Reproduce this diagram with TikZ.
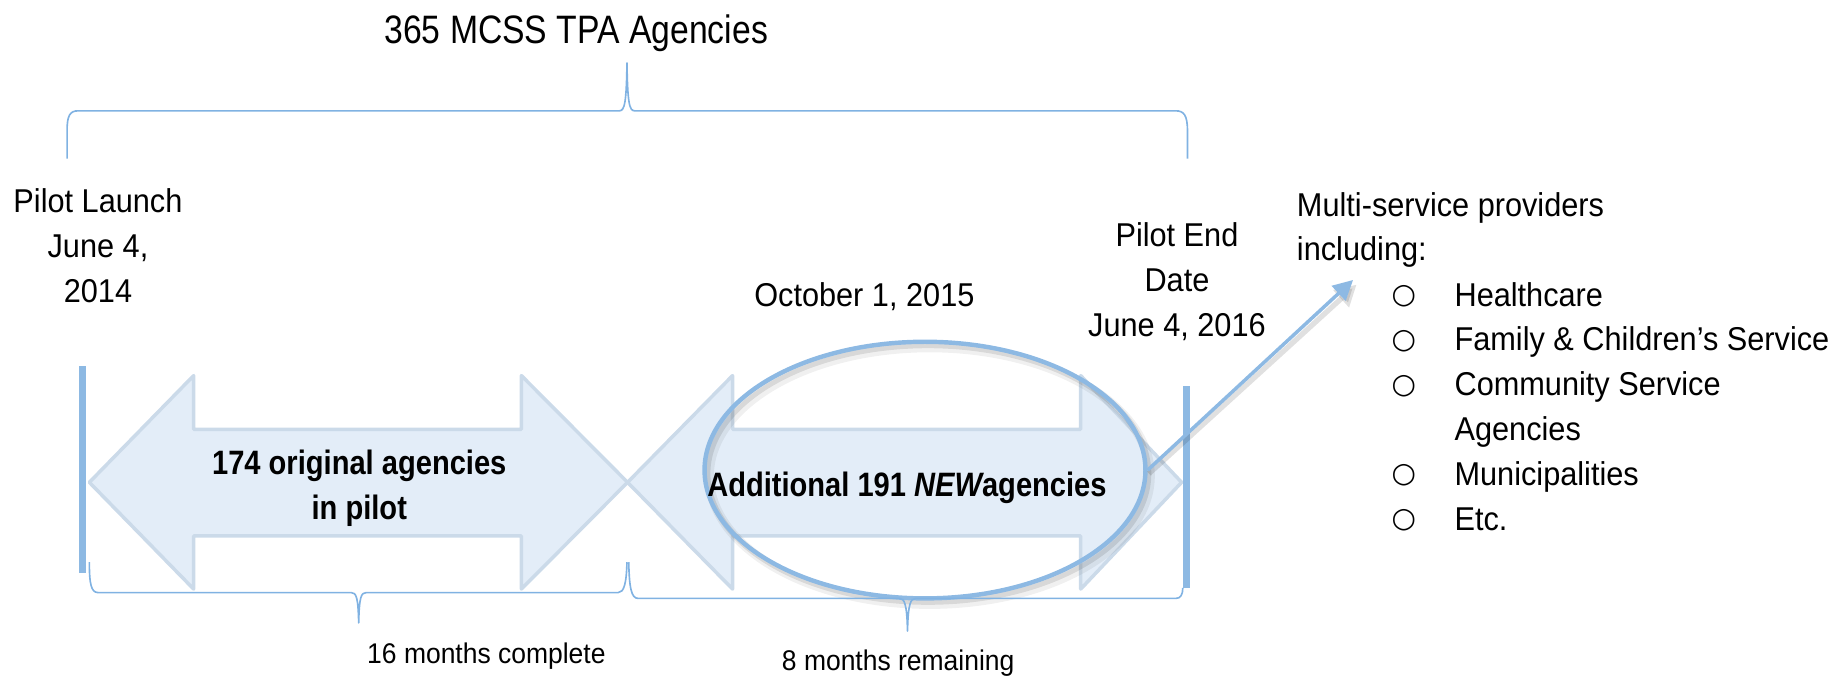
\documentclass[tikz,border=0pt]{standalone}
\usepackage{fontspec}
\setmainfont{Liberation Sans}[FakeStretch=0.93]
\newfontfamily\bnarrow{Liberation Sans}[FakeStretch=0.86]
\newfontfamily\tnarrow{Liberation Sans}[FakeStretch=0.85]
\newfontfamily\symb{DejaVu Sans}
\usetikzlibrary{arrows.meta,shapes.geometric}
\definecolor{barblue}{HTML}{8DB9E3}
\definecolor{arrfill}{HTML}{E3EDF8}
\definecolor{arrline}{HTML}{CBDAE9}
\definecolor{braceblue}{HTML}{80B2E2}
\begin{document}
\begin{tikzpicture}[x=1pt,y=-1pt,
  txt/.style={inner sep=0, anchor=base, font=\fontsize{28.3}{34}\selectfont},
  btxt/.style={inner sep=0, anchor=base, font=\bnarrow\bfseries\fontsize{29}{35}\selectfont},
  ttxt/.style={inner sep=0, anchor=base, font=\tnarrow\fontsize{34}{40}\selectfont},
  smtxt/.style={inner sep=0, anchor=base, font=\fontsize{24.4}{29}\selectfont},
  ltxt/.style={inner sep=0, anchor=base west, font=\fontsize{28.3}{34}\selectfont},
  bul/.style={inner sep=0, anchor=center, font=\symb\fontsize{24}{28}\selectfont},
  brace/.style={draw=braceblue, line width=1.4, line join=round},
  bar/.style={draw=barblue, line width=6.3},
  arrshape/.style={fill=arrfill, draw=arrline, line width=3, line join=round},
  conn/.style={draw=barblue, line width=3, -{Triangle[width=17,length=17]}},
  connshadow/.style={draw=black, opacity=0.12, line width=4.5, -{Triangle[width=19,length=18]}}
]
\useasboundingbox (0,0) rectangle (1568,578.7);

% title and top brace
\node[ttxt] (title) at (494,37.7) {365 MCSS TPA Agencies};
\draw[brace] (57.5,136) -- (57.5,112) .. controls (57.5,99) and (60,95) .. (67,95) -- (531,95) .. controls (535.5,95) and (537,88) .. (537.5,54) .. controls (538,88) and (539.5,95) .. (544,95) -- (1008,95) .. controls (1015,95) and (1018,99) .. (1018,112) -- (1018,136);

% date labels
\node[txt] (pl1) at (84,182) {Pilot Launch};
\node[txt] (pl2) at (84,220.6) {June 4,};
\node[txt] (pl3) at (84,259.2) {2014};
\node[txt] (oct) at (741,263) {October 1, 2015};
\node[txt] (pe1) at (1009,211) {Pilot End};
\node[txt] (pe2) at (1009,249.6) {Date};
\node[txt] (pe3) at (1009,288.2) {June 4, 2016};

% double arrows
\draw[arrshape] (76.6,413.5) -- (166,322) -- (166,368) -- (447,368) -- (447,322) -- (538,413.5) -- (447,505) -- (447,459.5) -- (166,459.5) -- (166,505) -- cycle;
\draw[arrshape] (538,413.5) -- (628,322) -- (628,368) -- (926.5,368) -- (926.5,322) -- (1013,413.5) -- (926.5,505) -- (926.5,459.5) -- (628,459.5) -- (628,505) -- cycle;

% vertical bars
\coordinate (lbt) at (71,314);
\coordinate (lbb) at (71,491.5);
\coordinate (rbt) at (1017,331);
\coordinate (rbb) at (1017,504.3);
\draw[bar] (lbt) -- (lbb);
\draw[bar] (rbt) -- (rbb);

% arrow texts
\node[btxt] (a1) at (308,406.6) {174 original agencies};
\node[btxt] (a2) at (308,445.2) {in pilot};

% ellipse with shadow
\draw[black, opacity=0.06, line width=8] (797,408) ellipse [x radius=189, y radius=110];
\draw[black, opacity=0.10, line width=5] (795.5,406) ellipse [x radius=189, y radius=110];
\node[draw=barblue, line width=3.8, ellipse, minimum width=378, minimum height=220, inner sep=0] (ell) at (793,403) {};
\node[btxt] (a3) at (777.5,425.8) {Additional 191 {\itshape NEW}agencies};

% connector
\coordinate (ctip) at (1160,240);
\coordinate (ctips) at (1163,244);
\coordinate (cstart) at (985,406);
\draw[connshadow] (cstart) -- (ctips);
\draw[conn] (ell.east) -- (ctip);

% right list
\node[ltxt] (m1) at (1111.7,185.7) {Multi-service providers};
\node[ltxt] (m2) at (1111.7,223) {including:};
\node[bul] (b1) at (1203.5,254) {○};
\node[ltxt] (l1) at (1246.8,262.5) {Healthcare};
\node[bul] (b2) at (1203.5,292.4) {○};
\node[ltxt] (l2) at (1246.8,300.9) {Family \& Children’s Services};
\node[bul] (b3) at (1203.5,330.8) {○};
\node[ltxt] (l3) at (1246.8,339.3) {Community Service};
\node[ltxt] (l3b) at (1246.8,377.7) {Agencies};
\node[bul] (b4) at (1203.5,407.6) {○};
\node[ltxt] (l4) at (1246.8,416.1) {Municipalities};
\node[bul] (b5) at (1203.5,446) {○};
\node[ltxt] (l5) at (1246.8,454.5) {Etc.};

% bottom braces
\draw[brace] (76.6,482) .. controls (76.6,500) and (78,508) .. (84,508) -- (301,508) .. controls (305.5,508) and (307,512) .. (307.5,534) .. controls (308,512) and (309.5,508) .. (314,508) -- (530,508) .. controls (535,508) and (537,500) .. (537.5,482);
\draw[brace] (539,482) .. controls (539.5,503) and (541,513) .. (547,513) -- (771,513) .. controls (775.5,513) and (777.5,518) .. (778,541) .. controls (778.5,518) and (780.5,513) .. (785,513) -- (1008,513) .. controls (1012,513) and (1014,510) .. (1014,504);

\node[smtxt] (d1) at (417,568.6) {16 months complete};
\node[smtxt] (d2) at (770,574.4) {8 months remaining};
\end{tikzpicture}
\end{document}
